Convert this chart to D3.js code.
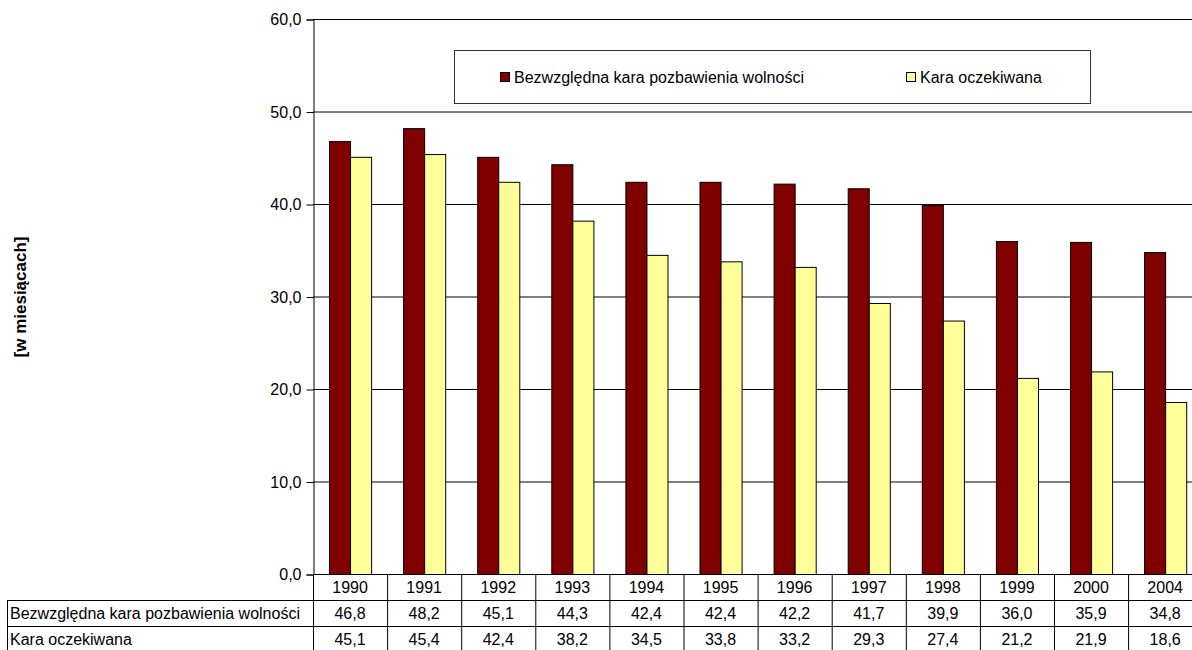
<!DOCTYPE html>
<html>
<head>
<meta charset="utf-8">
<script src="https://cdn.jsdelivr.net/npm/d3@7"></script>
<style>
  body { margin: 0; background: #fff; }
  svg { display: block; font-family: "Liberation Sans", Arial, sans-serif; }
</style>
</head>
<body>
<svg id="wykres" width="1192" height="650"></svg>
<script>
// Dane
let lata = ["1990", "1991", "1992", "1993", "1994", "1995", "1996", "1997", "1998", "1999", "2000", "2004"];
let bezwzgledna = [46.8, 48.2, 45.1, 44.3, 42.4, 42.4, 42.2, 41.7, 39.9, 36.0, 35.9, 34.8];
let oczekiwana = [45.1, 45.4, 42.4, 38.2, 34.5, 33.8, 33.2, 29.3, 27.4, 21.2, 21.9, 18.6];
let nazwySerii = ["Bezwzględna kara pozbawienia wolności", "Kara oczekiwana"];
let kolory = ["#800000", "#FFFF99"];
let ticksY = [0, 10, 20, 30, 40, 50, 60];

let svg = d3.select("#wykres");
let fmt = (v) => v.toFixed(1).replace(".", ",");
let rozmiar = 16;

let lewo = 313, gora = 19, dol = 574;
let fnX = d3.scaleBand().domain(lata).range([lewo, lewo + 74.1 * lata.length]);
let fnY = d3.scaleLinear().domain([0, 60]).range([dol, gora]);
let fnS = d3.scaleBand().domain([0, 1]).range([0, fnX.bandwidth()]).paddingOuter(0.76).paddingInner(0);

// Siatka
svg.append("g")
  .selectAll("line")
  .data(ticksY)
  .enter()
  .append("line")
  .attr("x1", lewo)
  .attr("x2", 1192)
  .attr("y1", (d) => fnY(d) + 0.5)
  .attr("y2", (d) => fnY(d) + 0.5)
  .attr("stroke", "#000")
  .attr("stroke-width", 1);

// Oś Y
let osY = svg.append("g")
  .attr("transform", `translate(${lewo + 0.5},0.5)`)
  .call(d3.axisLeft(fnY).tickValues(ticksY).tickFormat(fmt).tickSize(7).tickPadding(5));
osY.select(".domain").attr("stroke", "#000");
osY.selectAll("text").attr("font-size", rozmiar).attr("font-family", "Liberation Sans, Arial").attr("fill", "#000");

// Słupki
let serie = [bezwzgledna, oczekiwana];
serie.forEach((wartosci, s) => {
  svg.append("g")
    .selectAll("rect")
    .data(wartosci)
    .enter()
    .append("rect")
    .attr("x", (d, i) => fnX(lata[i]) + fnS(s) + 0.5)
    .attr("y", (d) => fnY(d) + 0.5)
    .attr("width", fnS.bandwidth())
    .attr("height", (d) => fnY(0) - fnY(d))
    .attr("fill", kolory[s])
    .attr("stroke", "#000")
    .attr("stroke-width", 1);
});

// Legenda
let leg = svg.append("g");
leg.append("rect")
  .attr("x", 454.5).attr("y", 50.5).attr("width", 636).attr("height", 53)
  .attr("fill", "#fff").attr("stroke", "#333");
let pozLeg = [500, 906];
nazwySerii.forEach((n, i) => {
  leg.append("rect")
    .attr("x", pozLeg[i] + 0.5).attr("y", 72.5).attr("width", 9).attr("height", 9)
    .attr("fill", kolory[i]).attr("stroke", "#000");
  leg.append("text")
    .attr("x", pozLeg[i] + 14).attr("y", 83)
    .attr("font-size", rozmiar)
    .text(n);
});

// Tytuł osi Y
svg.append("text")
  .attr("transform", "translate(26,297) rotate(-90)")
  .attr("text-anchor", "middle")
  .attr("font-size", 17)
  .attr("font-weight", "bold")
  .text("[w miesiącach]");

// Tabela danych
let tab = svg.append("g").attr("stroke", "#000").attr("stroke-width", 1);
let wiersz = 26;
let granice = lata.map((d) => fnX(d)).concat([fnX.range()[1]]);
granice.forEach((x) => {
  tab.append("line")
    .attr("x1", x + 0.5).attr("x2", x + 0.5)
    .attr("y1", dol).attr("y2", 650);
});
[dol + wiersz, dol + 2 * wiersz].forEach((y) => {
  tab.append("line").attr("x1", 7).attr("x2", 1192).attr("y1", y + 0.5).attr("y2", y + 0.5);
});
tab.append("line").attr("x1", 7.5).attr("x2", 7.5).attr("y1", dol + wiersz).attr("y2", 650);

let teksty = svg.append("g").attr("font-size", rozmiar).attr("fill", "#000");
lata.forEach((r, i) => {
  let cx = fnX(r) + fnX.bandwidth() / 2;
  teksty.append("text").attr("x", cx).attr("y", dol + 19).attr("text-anchor", "middle").text(r);
  teksty.append("text").attr("x", cx).attr("y", dol + wiersz + 19).attr("text-anchor", "middle").text(fmt(bezwzgledna[i]));
  teksty.append("text").attr("x", cx).attr("y", dol + 2 * wiersz + 19).attr("text-anchor", "middle").text(fmt(oczekiwana[i]));
});
nazwySerii.forEach((n, i) => {
  teksty.append("text").attr("x", 10).attr("y", dol + (i + 1) * wiersz + 19).text(n);
});
</script>
</body>
</html>
